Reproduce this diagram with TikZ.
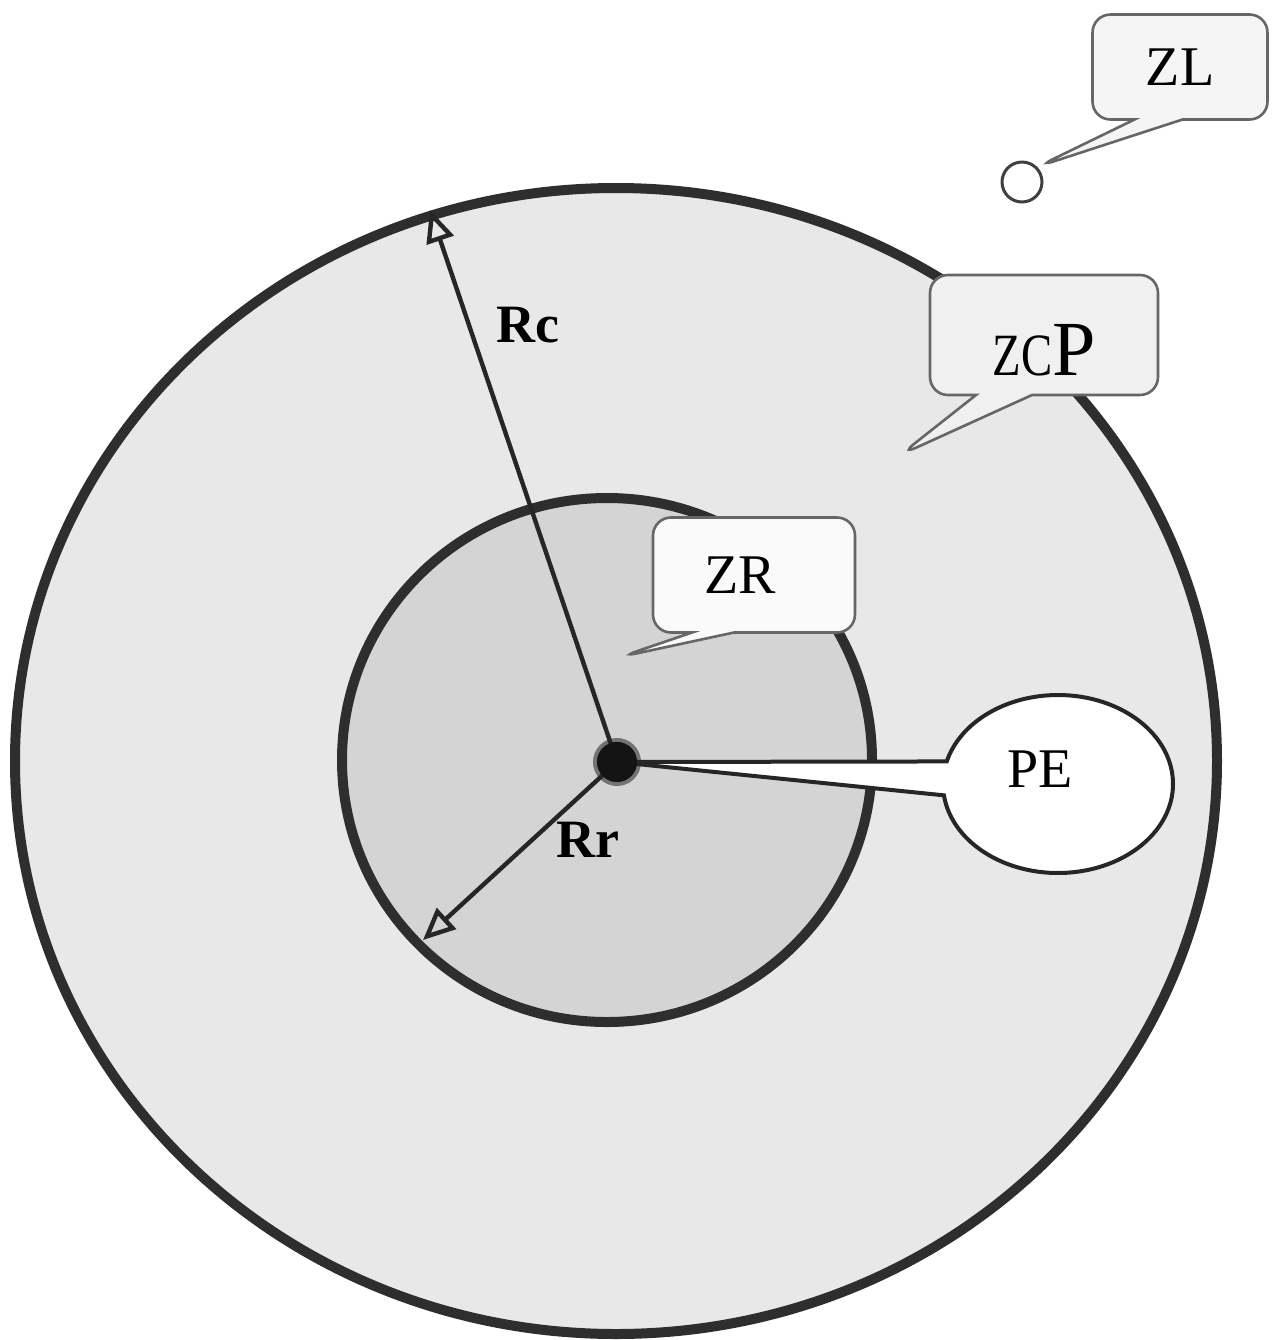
\documentclass[tikz,border=0pt]{standalone}
\usepackage{fontspec}
\setmainfont{Liberation Serif}
\usetikzlibrary{shapes.callouts,arrows.meta}

\begin{document}
\begin{tikzpicture}[
  x=0.5pt, y=-0.5pt,
  every node/.style={font=\fontsize{28}{30}\selectfont},
  zone/.style={line width=5pt, draw=black!82},
  radius arrow/.style={line width=2.2pt, draw=black!85,
    -{Triangle[open, length=16pt, width=14pt, line width=2.2pt]}},
  tag/.style={rectangle callout, rounded corners=9pt, draw=black!60,
    line width=1.3pt, inner sep=0pt},
  radlabel/.style={font=\bfseries\fontsize{27}{29}\selectfont}
  ]

\useasboundingbox[fill=white] (0,0) rectangle (1273,1340);

% outer and inner zones
\draw[zone, fill=black!9] (616,761) ellipse [x radius=601, y radius=573];
\draw[zone, fill=black!17] (607,760) ellipse [x radius=265, y radius=262];

% centre point and radii
\coordinate (rc end) at (430,210);
\coordinate (rr end) at (423,940);
\node[circle, fill=black!90, draw=black!55, line width=2pt, minimum size=22pt, inner sep=0pt] (pe) at (617,762) {};
\draw[radius arrow] (pe.center) -- (rc end);
\draw[radius arrow] (pe.center) -- (rr end);
\node[radlabel] (rc) at (528,325) {Rc};
\node[radlabel] (rr) at (588,840) {Rr};

% PE callout
\node[ellipse callout, draw=black!85, line width=2pt, fill=white, inner sep=0pt,
  minimum width=115pt, minimum height=89pt, callout pointer arc=22,
  callout absolute pointer={(pe.center)}] (pe tag) at (1058,784)
  {\raisebox{-1.5pt}[0pt][0pt]{PE}\hspace*{18pt}};
\node[circle, fill=black!92, minimum size=20pt, inner sep=0pt] (pe core) at (pe.center) {};

% ZR callout
\node[tag, fill=black!2, minimum width=101pt, minimum height=57.5pt, callout pointer width=21pt,
  callout absolute pointer={(620,657)}] (zr) at (754,575) {ZR\hspace*{14pt}};

% ZCP callout
\node[tag, fill=black!6, minimum width=114pt, minimum height=60pt, callout pointer width=28pt,
  callout absolute pointer={(900,455)}] (zcp) at (1044,335)
  {\raisebox{-20pt}[0pt][0pt]{\scalebox{0.78}[1]{\fontsize{30}{32}\selectfont ZC}\fontsize{39}{40}\selectfont P}};

% ZL callout and its point
\node[circle, draw=black!75, line width=1.5pt, fill=white, minimum size=20pt, inner sep=0pt] (zl point) at (1022,182) {};
\node[tag, fill=black!4, minimum width=87.5pt, minimum height=52.5pt, callout pointer width=24pt,
  callout absolute pointer={(zl point.north east)}] (zl) at (1180,67) {ZL};

\end{tikzpicture}
\end{document}
